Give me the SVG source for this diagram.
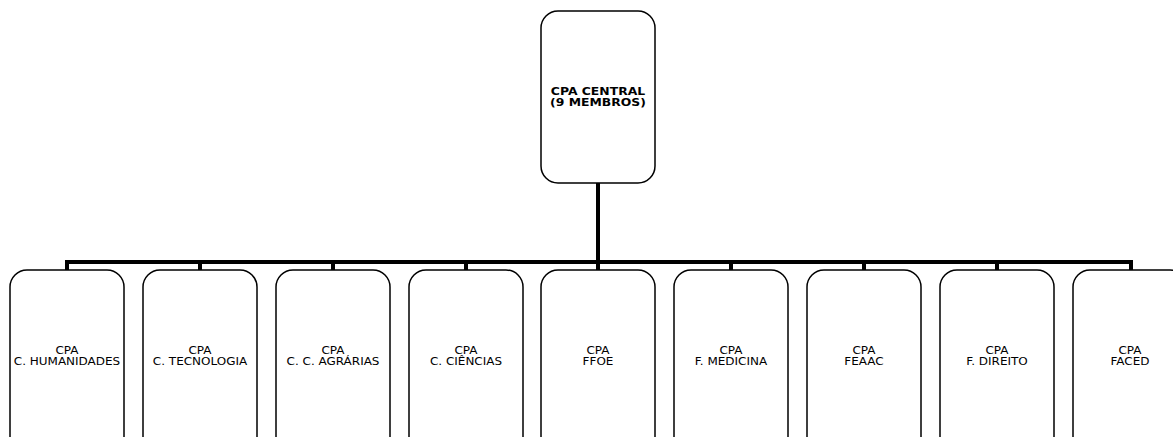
<svg xmlns="http://www.w3.org/2000/svg" width="1173" height="437" viewBox="0 0 1173 437">
<style>
.box{fill:#fff;stroke:#000;stroke-width:1.5}
.t{font-family:"DejaVu Sans",Verdana,sans-serif;font-size:10px;text-anchor:middle;fill:#000}
.b{font-weight:bold}
.c{fill:none;stroke:#000;stroke-width:4}
</style>
<rect width="1173" height="437" fill="#fff"/>
<g id="connectors">
<path class="c" d="M598 183V262M67 262H1131M67 260V270M200 260V270M333 260V270M466 260V270M731 260V270M864 260V270M997 260V270M1131 260V270M598 262V270"/>
</g>
<g id="central"><rect class="box" x="541" y="11" width="114" height="172" rx="17"/><g transform="translate(598,0) scale(1.24,1)"><text class="t b" x="0" y="95">CPA CENTRAL</text><text class="t b" x="0" y="106">(9 MEMBROS)</text></g></g>
<g id="n1"><rect class="box" x="10" y="270" width="114" height="190" rx="17"/><g transform="translate(67,0) scale(1.2,1)"><text class="t" x="0" y="354">CPA</text><text class="t" x="0" y="365">C. HUMANIDADES</text></g></g>
<g id="n2"><rect class="box" x="143" y="270" width="114" height="190" rx="17"/><g transform="translate(200,0) scale(1.2,1)"><text class="t" x="0" y="354">CPA</text><text class="t" x="0" y="365">C. TECNOLOGIA</text></g></g>
<g id="n3"><rect class="box" x="276" y="270" width="114" height="190" rx="17"/><g transform="translate(333,0) scale(1.2,1)"><text class="t" x="0" y="354">CPA</text><text class="t" x="0" y="365">C. C. AGRÁRIAS</text></g></g>
<g id="n4"><rect class="box" x="409" y="270" width="114" height="190" rx="17"/><g transform="translate(466,0) scale(1.2,1)"><text class="t" x="0" y="354">CPA</text><text class="t" x="0" y="365">C. CIÊNCIAS</text></g></g>
<g id="n5"><rect class="box" x="541" y="270" width="114" height="190" rx="17"/><g transform="translate(598,0) scale(1.2,1)"><text class="t" x="0" y="354">CPA</text><text class="t" x="0" y="365">FFOE</text></g></g>
<g id="n6"><rect class="box" x="674" y="270" width="114" height="190" rx="17"/><g transform="translate(731,0) scale(1.2,1)"><text class="t" x="0" y="354">CPA</text><text class="t" x="0" y="365">F. MEDICINA</text></g></g>
<g id="n7"><rect class="box" x="807" y="270" width="114" height="190" rx="17"/><g transform="translate(864,0) scale(1.2,1)"><text class="t" x="0" y="354">CPA</text><text class="t" x="0" y="365">FEAAC</text></g></g>
<g id="n8"><rect class="box" x="940" y="270" width="114" height="190" rx="17"/><g transform="translate(997,0) scale(1.2,1)"><text class="t" x="0" y="354">CPA</text><text class="t" x="0" y="365">F. DIREITO</text></g></g>
<g id="n9"><rect class="box" x="1073" y="270" width="114" height="190" rx="17"/><g transform="translate(1130,0) scale(1.2,1)"><text class="t" x="0" y="354">CPA</text><text class="t" x="0" y="365">FACED</text></g></g>
</svg>
